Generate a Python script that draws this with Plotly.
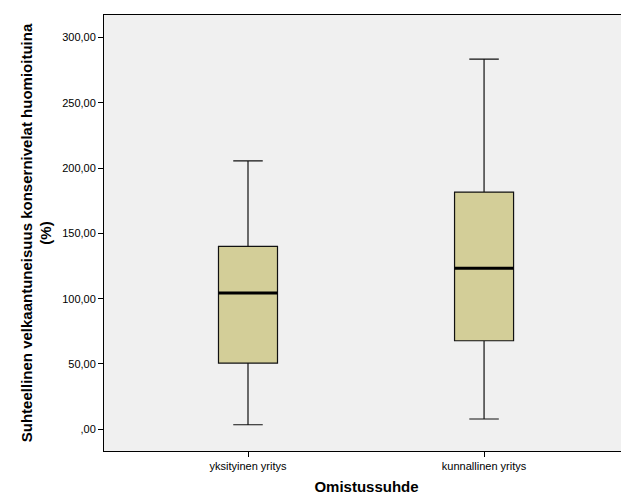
import plotly.graph_objects as go

categories = ["yksityinen yritys", "kunnallinen yritys"]
lower_whisker = [3.5, 7.9]
q1_values = [50.7, 67.8]
medians = [104.3, 123.2]
q3_values = [140.0, 181.6]
upper_whisker = [205.5, 283.4]
y_tick_values = [0, 50, 100, 150, 200, 250, 300]
y_tick_labels = [",00", "50,00", "100,00", "150,00", "200,00", "250,00", "300,00"]

positions = list(range(len(categories)))
box_w = 0.25

fig = go.Figure()
fig.add_trace(go.Box(
    x=positions,
    q1=q1_values, median=medians, q3=q3_values,
    lowerfence=lower_whisker, upperfence=upper_whisker,
    width=box_w, whiskerwidth=0.5,
    fillcolor="#D3CE98",
    line=dict(color="#111111", width=1.2),
    boxpoints=False, hoverinfo="skip", showlegend=False,
))
for p, m in zip(positions, medians):
    fig.add_trace(go.Scatter(
        x=[p - box_w / 2, p + box_w / 2], y=[m, m], mode="lines",
        line=dict(color="black", width=3), showlegend=False, hoverinfo="skip",
    ))

font_family = "Liberation Sans, Arial, sans-serif"
fig.update_layout(
    width=629, height=504,
    margin=dict(l=96, r=8, t=7, b=61),
    paper_bgcolor="white", plot_bgcolor="#F0F0F0",
    font=dict(family=font_family, size=11, color="black"),
    showlegend=False,
)
fig.update_xaxes(
    range=[-0.61, 1.614], tickvals=positions, ticktext=categories,
    ticks="outside", ticklen=5, tickcolor="black",
    showline=True, linecolor="black", linewidth=1, mirror=True,
    showgrid=False, zeroline=False,
    title=dict(text="<b>Omistussuhde</b>", font=dict(size=15), standoff=10),
    tickfont=dict(size=11),
)
fig.update_yaxes(
    range=[-16.6, 317.1], tickvals=y_tick_values, ticktext=y_tick_labels,
    ticks="outside", ticklen=5, tickcolor="black",
    showline=True, linecolor="black", linewidth=1, mirror=True,
    showgrid=False, zeroline=False,
    title=dict(text="<b>Suhteellinen velkaantuneisuus konsernivelat huomioituina<br>(%)</b>",
               font=dict(size=15), standoff=6),
    tickfont=dict(size=11),
)

fig.write_html("out.html")
